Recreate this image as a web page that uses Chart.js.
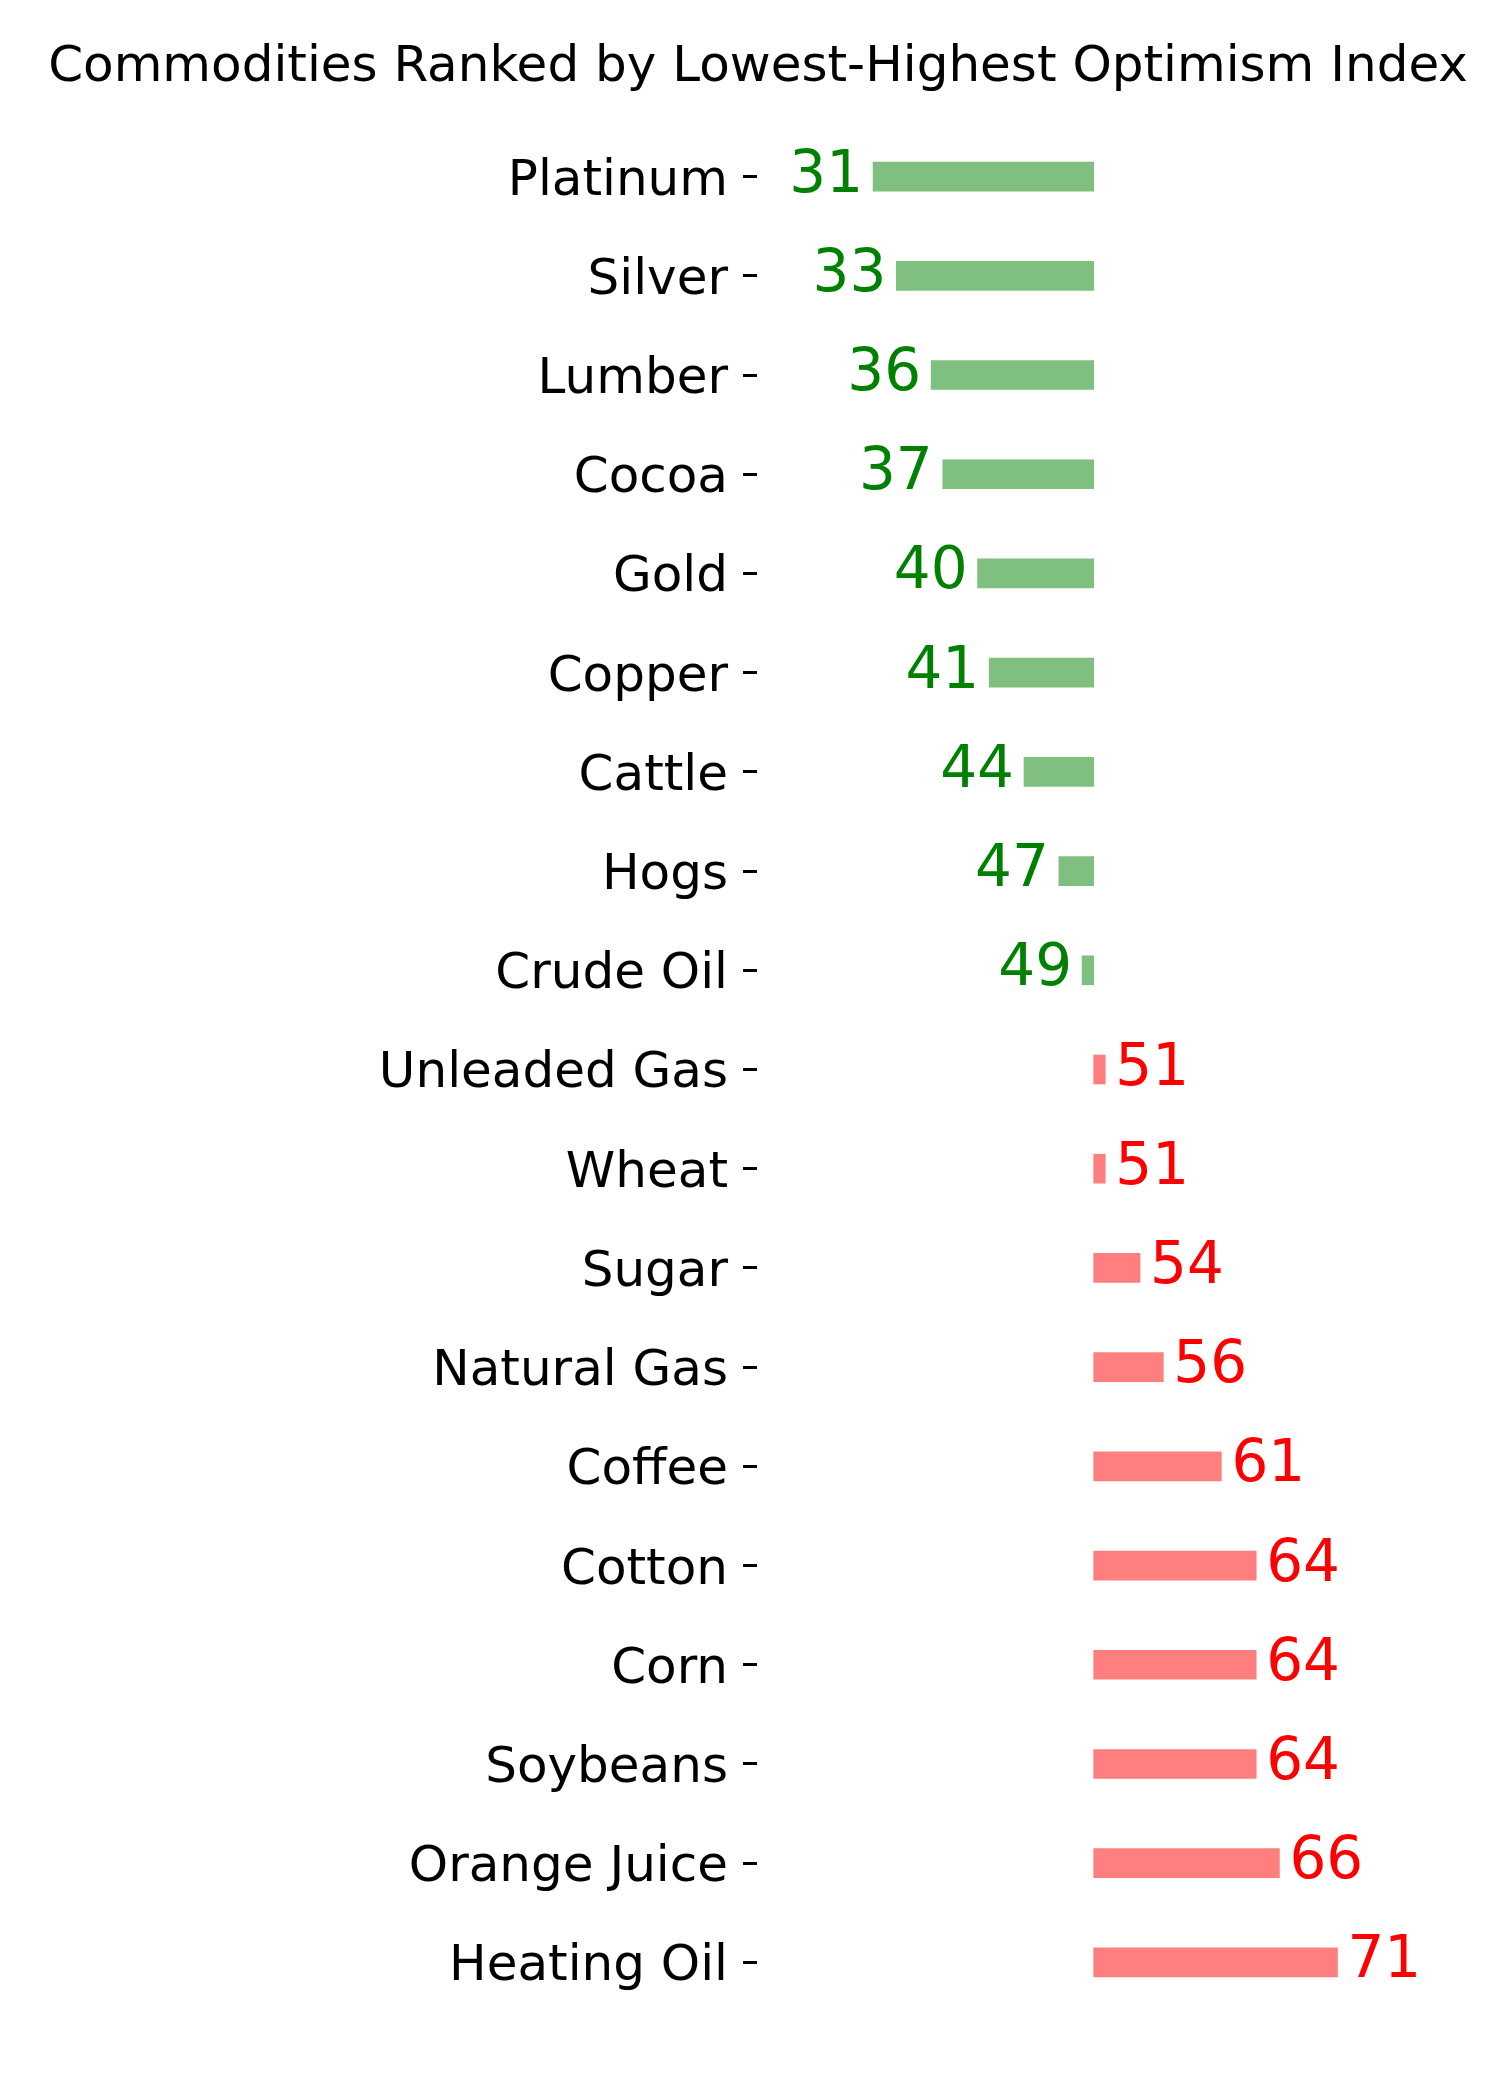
<!DOCTYPE html>
<html>
<head>
<meta charset="utf-8">
<title>Commodities Ranked by Lowest-Highest Optimism Index</title>
<script src="https://cdn.jsdelivr.net/npm/chart.js@4/dist/chart.umd.min.js"></script>
<style>
  html, body { margin: 0; padding: 0; background: #fff; }
  #wrap { width: 1500px; height: 2100px; }
</style>
</head>
<body>
<div id="wrap"><canvas id="optimismChart" width="1500" height="2100"></canvas></div>
<script>
// Data
const commodities = [
  "Platinum", "Silver", "Lumber", "Cocoa", "Gold", "Copper", "Cattle", "Hogs",
  "Crude Oil", "Unleaded Gas", "Wheat", "Sugar", "Natural Gas", "Coffee",
  "Cotton", "Corn", "Soybeans", "Orange Juice", "Heating Oil"
];
const optimismIndex = [31, 33, 36, 37, 40, 41, 44, 47, 49, 51, 51, 54, 56, 61, 64, 64, 64, 66, 71];
const neutralLevel = 50;
const chartTitle = "Commodities Ranked by Lowest-Highest Optimism Index";

const FONT = "'DejaVu Sans', sans-serif";

// green below neutral, red above
function barColor(v) {
  return v < neutralLevel ? "rgba(0, 128, 0, 0.5)" : "rgba(255, 0, 0, 0.5)";
}
function textColor(v) {
  return v < neutralLevel ? "#008000" : "#ff0000";
}

// Draws the number next to each bar
const valueLabels = {
  id: "valueLabels",
  afterDatasetsDraw(chart) {
    const ctx = chart.ctx;
    const xScale = chart.scales.x;
    const meta = chart.getDatasetMeta(0);
    ctx.save();
    ctx.font = "58px " + FONT;
    ctx.textBaseline = "alphabetic";
    meta.data.forEach((bar, i) => {
      const v = optimismIndex[i];
      const x = xScale.getPixelForValue(v);
      ctx.fillStyle = textColor(v);
      if (v < neutralLevel) {
        ctx.textAlign = "right";
        ctx.fillText(String(v), x - 10, bar.y + 15);
      } else {
        ctx.textAlign = "left";
        ctx.fillText(String(v), x + 10, bar.y + 15);
      }
    });
    ctx.restore();
  },
};

const ctx = document.getElementById("optimismChart").getContext("2d");
window.optimismChart = new Chart(ctx, {
  type: "bar",
  data: {
    labels: commodities,
    datasets: [
      {
        data: optimismIndex.map((v) => [neutralLevel, v]),
        backgroundColor: optimismIndex.map(barColor),
        borderWidth: 0,
        barThickness: 29,
      },
    ],
  },
  options: {
    indexAxis: "y",
    responsive: false,
    devicePixelRatio: 1,
    animation: false,
    layout: { padding: { left: 16, right: 0, top: 0, bottom: 88 } },
    scales: {
      x: {
        display: false,
        min: 21,
        max: 85,
      },
      y: {
        border: { display: false },
        grid: {
          offset: false,
          drawOnChartArea: false,
          drawTicks: true,
          tickLength: 14,
          tickWidth: 3,
          tickColor: "#000",
        },
        ticks: {
          color: "#000",
          padding: 15,
          labelOffset: 5,
          font: { family: FONT, size: 50 },
        },
        afterFit: function (scale) {
          scale.width = 741;
        },
      },
    },
    plugins: {
      legend: { display: false },
      tooltip: { enabled: false },
      title: {
        display: true,
        text: chartTitle,
        color: "#000",
        font: { family: FONT, size: 50, weight: "normal" },
        padding: { top: 38, bottom: 29 },
      },
    },
  },
  plugins: [valueLabels],
});
</script>
</body>
</html>
